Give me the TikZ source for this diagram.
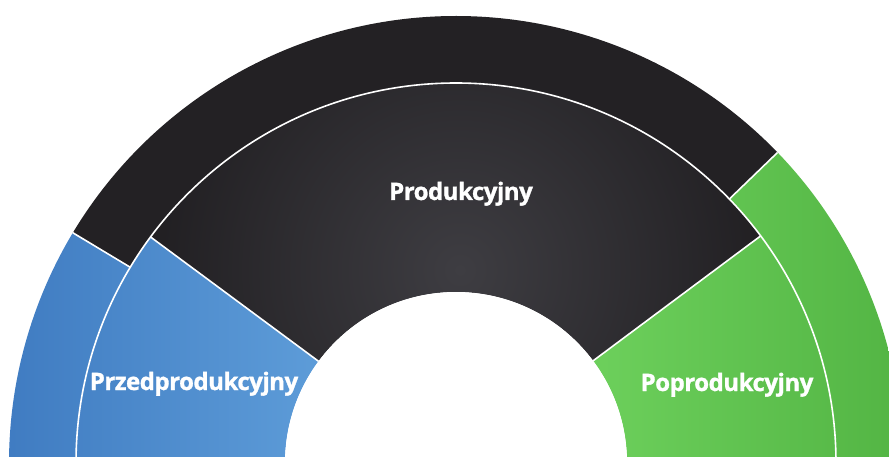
\documentclass[tikz,border=0pt]{standalone}
\usepackage{fontspec}
\setmainfont{Open Sans}
\newfontfamily\lblfont{Open Sans}[BoldFeatures={FakeBold=1.2,LetterSpace=-2}]
\usetikzlibrary{calc}
\definecolor{blueD}{HTML}{3F7BC1}
\definecolor{blueL}{HTML}{5E9DD9}
\definecolor{greenL}{HTML}{6DD05C}
\definecolor{greenD}{HTML}{52B443}
\definecolor{blackOut}{HTML}{232124}
\definecolor{blackIn}{HTML}{1F1D20}
\definecolor{blackMid}{HTML}{3E3D42}
\begin{document}
\begin{tikzpicture}[x=1pt,y=1pt,
  sector/.style n args={4}{insert path={($(O)+(#1:#3)$) arc[start angle=#1,end angle=#2,radius=#3] -- ($(O)+(#2:#4)$) arc[start angle=#2,end angle=#1,radius=#4] -- cycle}},
  sep/.style={white,line width=1.6pt},
  lbl/.style={text=white,font=\lblfont\bfseries\fontsize{24}{24}\selectfont,inner sep=0pt,anchor=base}]
\useasboundingbox (0,0) rectangle (889,-457);
\clip (0,0) rectangle (889,-457);
\fill[white] (0,0) rectangle (889,-457);
\coordinate (O) at (456,-463);
% blue segments
\begin{scope}
  \clip[sector={149}{200}{380}{447}, sector={143.5}{200}{171}{380}];
  \shade[left color=blueD, right color=blueL] (0,-150) rectangle (330,-470);
\end{scope}
% green segments
\begin{scope}
  \clip[sector={-20}{44}{380}{447}, sector={-20}{36.7}{171}{380}];
  \shade[left color=greenL, right color=greenD] (590,-130) rectangle (910,-470);
\end{scope}
% black outer
\fill[blackOut, sector={44}{149}{380}{447}];
% black inner
\begin{scope}
  \clip[sector={36.7}{143.5}{171}{380}];
  \shade[inner color=blackMid, outer color=blackIn] (460,-270) circle (330);
\end{scope}
% separators
\draw[sep] (O) circle (380);
\draw[sep] ($(O)+(149:380)$) -- ($(O)+(149:447)$);
\draw[sep] ($(O)+(44:380)$) -- ($(O)+(44:447)$);
\draw[sep] ($(O)+(143.5:171)$) -- ($(O)+(143.5:380)$);
\draw[sep] ($(O)+(36.7:171)$) -- ($(O)+(36.7:380)$);
\fill[white] (O) circle (171);
% labels
\node[lbl] (prod) at (461,-200) {Produkcyjny};
\node[lbl] (pre) at (194,-390) {Przedprodukcyjny};
\node[lbl] (post) at (727,-391) {Poprodukcyjny};
\end{tikzpicture}
\end{document}
